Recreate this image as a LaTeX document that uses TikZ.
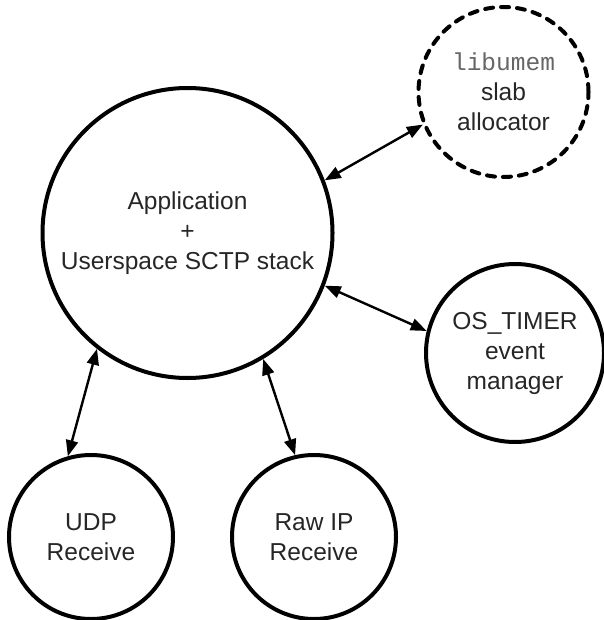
\documentclass[tikz,border=0pt]{standalone}
\usepackage{fontspec}
\setmainfont{Liberation Sans}
\newfontfamily\monofnt{Liberation Mono}
\usetikzlibrary{arrows.meta}
\begin{document}
\begin{tikzpicture}[x=1pt,y=-1pt,
  bubble/.style={circle,draw=black,line width=4pt,inner sep=0pt,align=center,
    text=black!85,font=\fontsize{24.5}{30}\selectfont},
  dashedbubble/.style={bubble,dash pattern=on 8pt off 8pt,line cap=round},
  arr/.style={line width=2.4pt,{Triangle[length=16pt,width=12pt]}-{Triangle[length=16pt,width=12pt]}}]
\useasboundingbox (0,0) rectangle (603,620);
\node[bubble,minimum size=290pt] (main) at (187.5,233) {Application\\+\\Userspace SCTP stack};
\node[dashedbubble,minimum size=170pt] (lib) at (503.5,92) {{\monofnt\color{black!60}libumem}\\slab\\allocator};
\node[bubble,minimum size=178pt] (timer) at (515,353) {OS\_TIMER\\event\\manager};
\node[bubble,minimum size=164pt] (udp) at (91,537) {UDP\\Receive};
\node[bubble,minimum size=164pt] (raw) at (314,537) {Raw IP\\Receive};
\draw[arr] (main.21) -- (lib.202.8);
\draw[arr] (main.-21.4) -- (timer.166.6);
\draw[arr] (main.232.6) -- (udp.106);
\draw[arr] (main.301.1) -- (raw.103.4);
\end{tikzpicture}
\end{document}
